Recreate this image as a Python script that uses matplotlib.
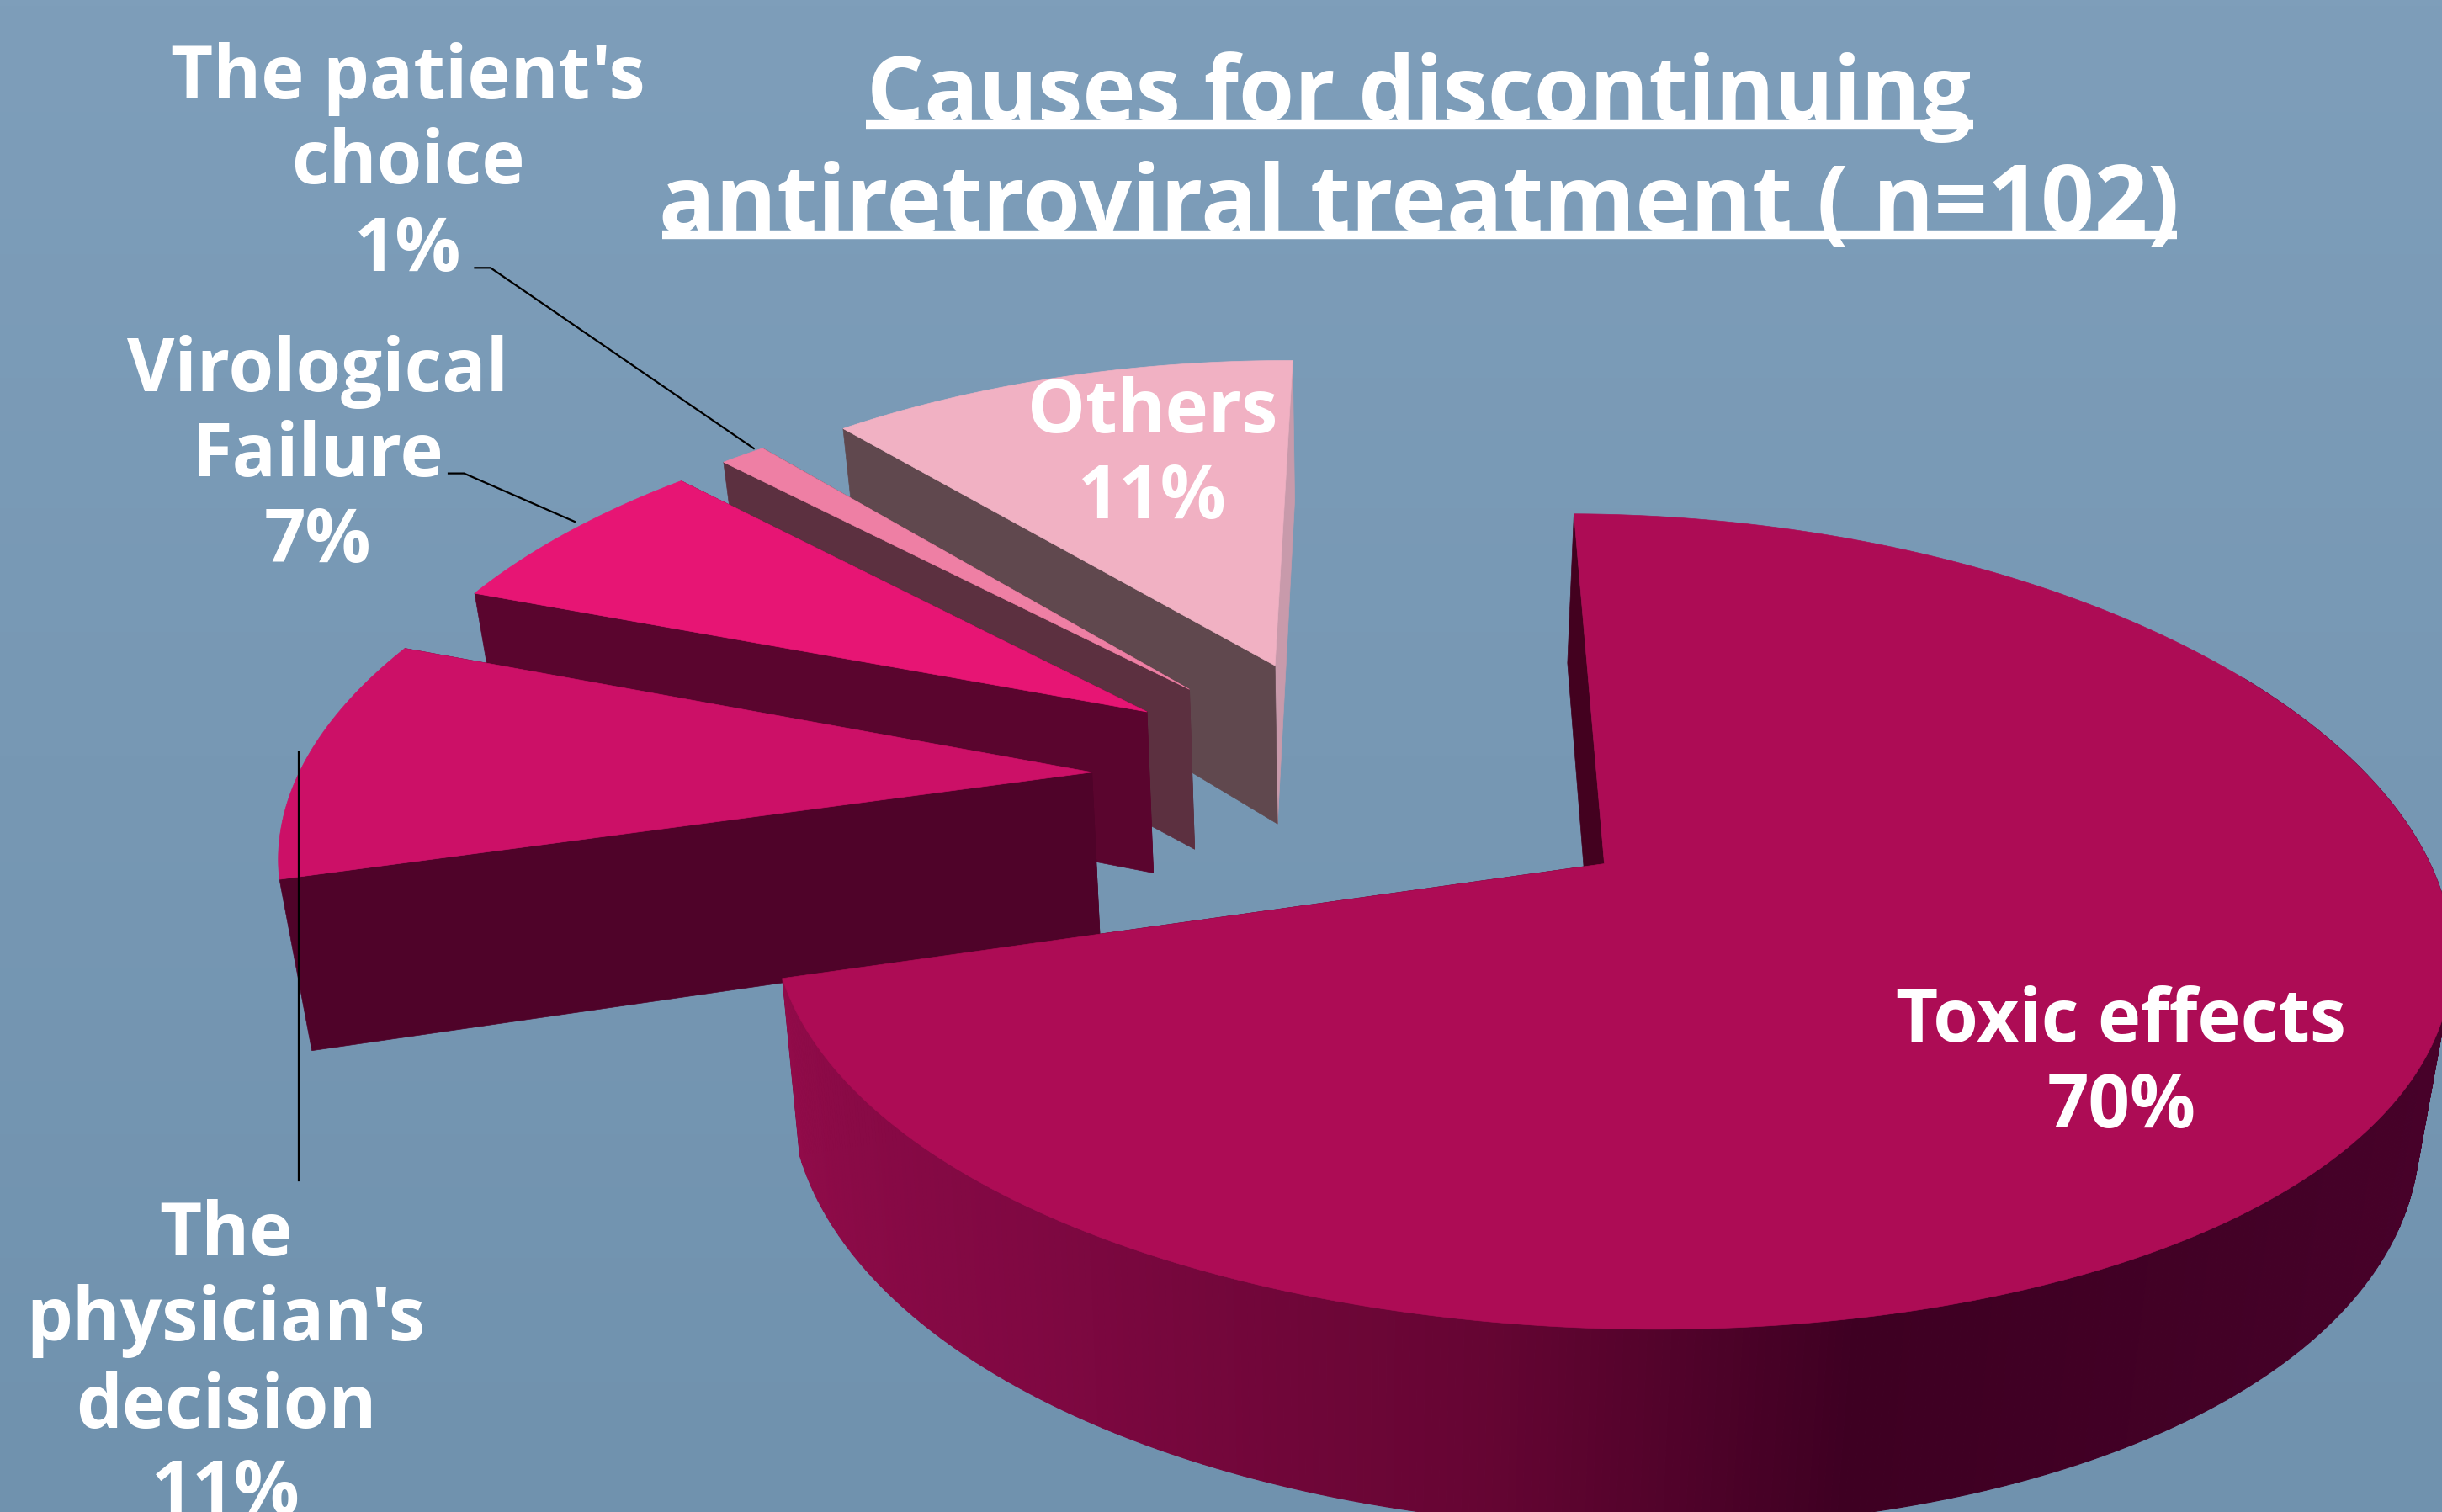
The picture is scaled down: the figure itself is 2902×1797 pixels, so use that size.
import numpy as np
import matplotlib
matplotlib.use("Agg")
import matplotlib.pyplot as plt

# ---- data ----
categories = ["Toxic effects", "The physician's decision", "Virological Failure", "The patient's choice", "Others"]
values = [70, 11, 7, 1, 11]
top_colors = ["#AD0C55", "#CC1067", "#E71574", "#EE7FA4", "#F1B1C3"]
start_cut = ["#43011F", "#4F0329", "#5A052E", "#5C3040", "#60484E"]
end_cut = ["#43011F", "#4F0329", "#5A052E", "#5C3040", "#C89AAB"]
explode = [0.37, 0.34, 0.33, 0.33, 0.33]
title_lines = ["Causes for discontinuing", "antiretroviral treatment ( n=102)"]

# ---- projection of the tilted pie (display units 1568x971) ----
W, H = 1568, 971
CX, CY, RX, RY, K, KX = 874, 499, 510, 241, 0.1375, 0.17
DEPTH, SHRINK = 106, 0.97
START = 90.0
SEAM = 89.5
FONT = "Open Sans"

fig = plt.figure(figsize=(29.02, 17.97), dpi=100)
ax = fig.add_axes([0, 0, 1, 1])
ax.set_xlim(0, W)
ax.set_ylim(H, 0)
ax.axis("off")
c0, c1 = np.array([126, 158, 186]), np.array([112, 146, 174])
grad = np.linspace(0, 1, 256)[:, None, None] * (c1 - c0) + c0
ax.imshow(grad.astype(np.uint8), extent=[0, W, H, 0], aspect="auto", zorder=0)
ax.set_xlim(0, W)
ax.set_ylim(H, 0)


def warp(a):
    """Angular distortion of the tilted 3-D view (degrees, counter-clockwise from +x)."""
    a = np.mod(np.asarray(a, float) - 90, 360) + 90
    return np.interp(a, [90, 129.6, 133.2, 158.4, 198, 360, 450],
                     [SEAM, 131, 135, 159.7, 196, 360, SEAM + 360])


def project(X, Y, bottom=False):
    X, Y = np.asarray(X, float), np.asarray(Y, float)
    s = 1 / (1 + K * Y)
    sx = 1 / (1 + KX * Y)
    x = CX + RX * X * sx
    y = CY - RY * Y * s
    if bottom:
        x = CX + (x - CX) * SHRINK
        y = y + DEPTH * s
    return x, y


def rim_color(theta):
    # shading of the outer wall by angle (degrees, clockwise side)
    stops = np.array([-170, -130, -100, -78, -40, 0])
    cols = np.array([[0x95, 0x0C, 0x4B], [0x80, 0x08, 0x42], [0x66, 0x05, 0x33],
                     [0x3E, 0x00, 0x22], [0x45, 0x01, 0x28], [0x4A, 0x02, 0x2A]])
    return tuple(np.interp(theta, stops, cols[:, i]) / 255 for i in range(3))


angles = np.cumsum([0] + values) / sum(values) * 360
for i in [4, 3, 2, 1, 0]:
    nom = np.linspace(START - angles[i], START - angles[i + 1], max(int(values[i] * 8), 12))
    wa = warp(nom)
    if i == 0:
        wa[0] = SEAM
    wa = np.unwrap(np.radians(wa))
    mid = (wa[0] + wa[-1]) / 2
    ox, oy = explode[i] * np.cos(mid), explode[i] * np.sin(mid)
    X, Y = ox + np.cos(wa), oy + np.sin(wa)
    xt, yt = project(X, Y)
    xb, yb = project(X, Y, bottom=True)
    ax_, ay_ = project(ox, oy)
    bx_, by_ = project(ox, oy, bottom=True)
    # cut faces
    ax.fill([ax_, xt[-1], xb[-1], bx_], [ay_, yt[-1], yb[-1], by_], color=end_cut[i], lw=0.5, zorder=2)
    ax.fill([ax_, xt[0], xb[0], bx_], [ay_, yt[0], yb[0], by_], color=start_cut[i], lw=0.5, zorder=2)
    # outer wall of the large slice
    if i == 0:
        deg = np.degrees(wa)
        deg = np.where(deg > 90, deg - 360, deg)
        for j in range(len(wa) - 1):
            if deg[j] > 30 or deg[j] < -175:
                continue
            ax.fill([xt[j], xt[j + 1], xb[j + 1], xb[j]], [yt[j], yt[j + 1], yb[j + 1], yb[j]],
                    color=rim_color(deg[j]), lw=0.8, zorder=2)
    # top surface
    ax.fill(np.r_[ax_, xt], np.r_[ay_, yt], color=top_colors[i], lw=0.5, zorder=2)

# leader lines
for xs, ys in [([305, 315, 484], [172, 172, 288]), ([288, 298, 369], [304, 304, 335]), ([192, 192], [483, 758])]:
    ax.plot(xs, ys, color="black", lw=1.6, zorder=3)

# labels
label_fs = 62.5
labels = [
    (1362, 669, "Toxic effects"), (1362, 724, f"{values[0]}%"),
    (145, 806, "The"), (145, 861, "physician's"), (145, 917, "decision"), (145, 972, f"{values[1]}%"),
    (204, 251, "Virological"), (204, 306, "Failure"), (204, 361, f"{values[2]}%"),
    (262, 63, "The patient's"), (262, 118, "choice"), (262, 174, f"{values[3]}%"),
    (740, 278, "Others"), (740, 333, f"{values[4]}%"),
]
for x, y, s in labels:
    ax.text(x, y, s, color="white", fontsize=label_fs, fontweight="bold", family=FONT,
            ha="center", va="baseline", zorder=5, clip_on=False)

# title with underline
ax.text(911, 78, title_lines[0], color="white", fontsize=77, fontweight="bold", family=FONT, ha="center", va="baseline", zorder=5)
ax.text(911, 149, title_lines[1], color="white", fontsize=80, fontweight="bold", family=FONT, ha="center", va="baseline", zorder=5)
ax.plot([556, 1267], [80, 80], color="white", lw=7.5, solid_capstyle="butt", zorder=5)
ax.plot([425, 1398], [151, 151], color="white", lw=7.5, solid_capstyle="butt", zorder=5)

fig.savefig("out.png", dpi=100)
